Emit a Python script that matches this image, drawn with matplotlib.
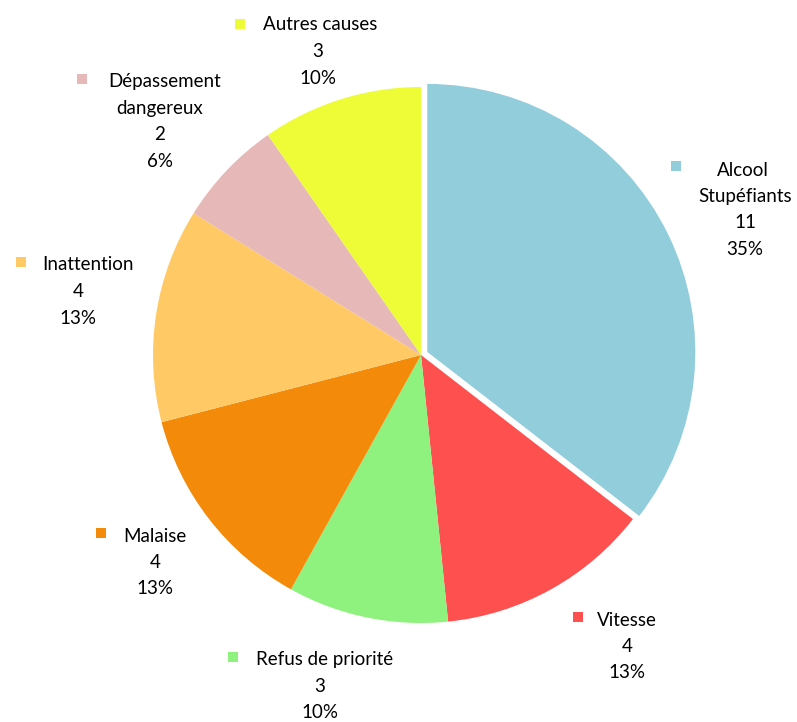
import matplotlib.pyplot as plt

causes = ['Alcool\nStupéfiants', 'Vitesse', 'Refus de priorité', 'Malaise',
          'Inattention', 'Dépassement\ndangereux', 'Autres causes']
values = [11, 4, 3, 4, 4, 2, 3]
colors = ['#92CDDC', '#FF5050', '#8FF27E', '#F38A0A', '#FFCA66', '#E6B9B8', '#EEFC37']

# label layout in pixels (y from top): key square, first line centre, other lines centre x
key_pos = [(676, 166), (578, 617), (233, 657), (101, 533), (21, 262), (82, 79), (240, 24)]
first_x = [743, 627, 325, 155, 88, 165, 320]
block_x = [745, 627, 320, 155, 78, 160, 318]
first_y = [170, 620, 660, 536, 265, 82, 25]

W, H = 797, 722
fig = plt.figure(figsize=(W / 100, H / 100), dpi=100)
ax = fig.add_axes([0, 0, 1, 1])

# explode is in data units here (pixels)
explode = [7] + [0] * (len(values) - 1)
ax.pie(values, colors=colors, startangle=90, counterclock=False,
       center=(421, H - 355), radius=268, explode=explode,
       wedgeprops=dict(linewidth=0), frame=True)
ax.set_xlim(0, W)
ax.set_ylim(0, H)
ax.axis('off')

total = sum(values)
step = 26.5
for i, (name, v) in enumerate(zip(causes, values)):
    lines = name.split('\n') + [str(v), f"{100 * v / total:.0f}%"]
    kx, ky = key_pos[i]
    ax.scatter([kx], [H - ky], marker='s', s=60, color=colors[i], linewidths=0)
    for j, line in enumerate(lines):
        x = first_x[i] if j == 0 else block_x[i]
        ax.text(x, H - (first_y[i] + j * step), line, ha='center', va='center',
                fontsize=13.5, family='Lato', color='black')

fig.savefig('out.png', dpi=100)
